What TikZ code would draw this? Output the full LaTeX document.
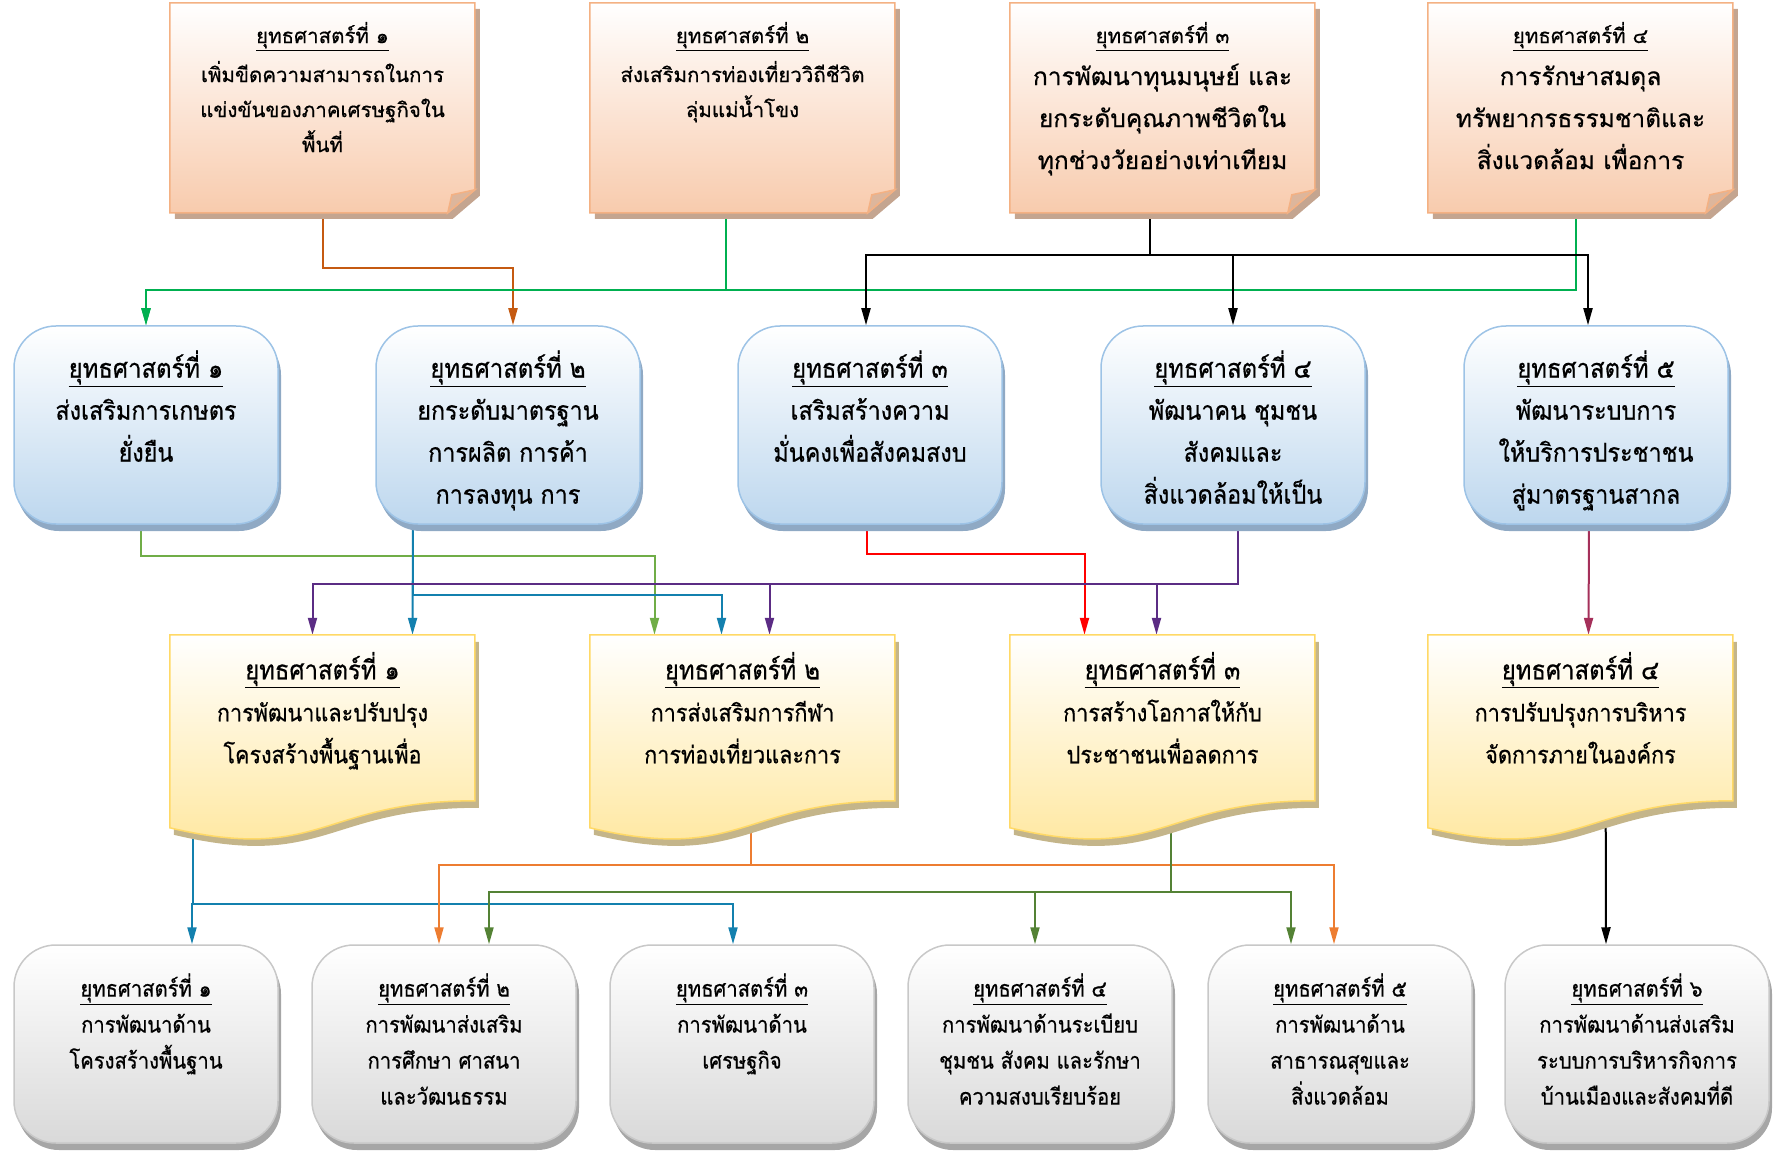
\documentclass[tikz,border=0pt]{standalone}
\usepackage{fontspec}
\newfontfamily\thaifont[Script=Thai,FakeBold=0.6]{Loma}
\newfontfamily\thainarrow[Script=Thai,FakeStretch=0.9,FakeBold=0.6]{Loma}
\usetikzlibrary{positioning,arrows.meta,shadows}

% box colours
\definecolor{peach}{HTML}{F8CBAD}
\definecolor{peachline}{HTML}{F4B183}
\definecolor{peachshade}{HTML}{C4A590}
\definecolor{peachfold}{HTML}{DDB69C}
\definecolor{skyfill}{HTML}{BDD7EE}
\definecolor{skyline}{HTML}{9DC3E6}
\definecolor{skyshade}{HTML}{8FA9C4}
\definecolor{lemon}{HTML}{FFE699}
\definecolor{lemonline}{HTML}{FFD966}
\definecolor{lemonshade}{HTML}{C4B58A}
\definecolor{ash}{HTML}{D9D9D9}
\definecolor{ashline}{HTML}{C8C8C8}
\definecolor{ashshade}{HTML}{A6A6A6}
% line colours
\definecolor{rust}{HTML}{C55A11}
\definecolor{leaf}{HTML}{00B050}
\definecolor{lime}{HTML}{70AD47}
\definecolor{sea}{HTML}{1380AE}
\definecolor{plum}{HTML}{5B2C84}
\definecolor{wine}{HTML}{A5305A}
\definecolor{tang}{HTML}{ED7D31}
\definecolor{moss}{HTML}{548235}

\pgfdeclarelayer{lines}
\pgfdeclarelayer{paper}
\pgfsetlayers{lines,paper,main}

\tikzset{
  notebox/.style={minimum width=305pt, minimum height=210pt, inner sep=0pt},
  docbox/.style={minimum width=305pt, minimum height=200pt, inner sep=0pt},
  skybox/.style={rounded corners=42pt, minimum width=264pt, minimum height=198pt,
    draw=skyline, line width=1.5pt, top color=white, bottom color=skyfill,
    drop shadow={shadow xshift=3pt, shadow yshift=-7pt, fill=skyshade, opacity=1}},
  ashbox/.style={rounded corners=42pt, minimum width=264pt, minimum height=198pt,
    draw=ashline, line width=1.5pt, top color=white, bottom color=ash,
    drop shadow={shadow xshift=3pt, shadow yshift=-7pt, fill=ashshade, opacity=1}},
  notefill/.style={draw=peachline, line width=1.5pt, top color=white, bottom color=peach},
  docfill/.style={draw=lemonline, line width=1.5pt, top color=white, bottom color=lemon},
  notetxt/.style={align=center, inner sep=0pt, font=\thaifont\fontsize{20.5}{35}\selectfont},
  skytxt/.style={align=center, inner sep=0pt, font=\thainarrow\fontsize{26}{42}\selectfont},
  lemontxt/.style={align=center, inner sep=0pt, font=\thainarrow\fontsize{24}{42}\selectfont},
  ashtxt/.style={align=center, inner sep=0pt, font=\thainarrow\fontsize{22.5}{36}\selectfont},
  link/.style={draw=#1, line width=2pt, -{Triangle[length=17pt,width=9pt]}}
}

\newcommand{\ttl}[2]{{\fontsize{#1}{#1}\selectfont\underline{#2}}}
\newcommand{\notepath}{(0,0) -- (305,0) -- (305,187) -- (278,210) -- (0,210) -- cycle}
\newcommand{\docpath}{(0,0) -- (305,0) -- (305,166) .. controls (152,166) and (152,229) .. (0,193) -- cycle}
\newcommand{\notepaper}[1]{%
  \begin{scope}[shift={(#1.north west)}]
    \fill[peachshade, shift={(5,6)}] \notepath;
    \path[notefill] \notepath;
    \filldraw[fill=peachfold, draw=peachline, line width=1.5pt] (305,187) -- (278,210) -- (282,192) -- cycle;
  \end{scope}}
\newcommand{\docpaper}[1]{%
  \begin{scope}[shift={(#1.north west)}]
    \fill[lemonshade, shift={(4,7)}] \docpath;
    \path[docfill] \docpath;
  \end{scope}}

\begin{document}
\begin{tikzpicture}[x=1pt,y=-1pt]
  \useasboundingbox (0,0) rectangle (1778,1155);
  % top row
  \node[notebox] (t1) at (322.5,108) {};
  \node[notebox] (t2) at (742.5,108) {};
  \node[notebox] (t3) at (1162.5,108) {};
  \node[notebox] (t4) at (1580.5,108) {};
  \node[notetxt, below=19pt of t1.north] (t1l) {\ttl{20.5}{ยุทธศาสตร์ที่ ๑}\\[4pt]เพิ่มขีดความสามารถในการ\\แข่งขันของภาคเศรษฐกิจใน\\พื้นที่};
  \node[notetxt, below=19pt of t2.north] (t2l) {\ttl{20.5}{ยุทธศาสตร์ที่ ๒}\\[4pt]ส่งเสริมการท่องเที่ยววิถีชีวิต\\ลุ่มแม่น้ำโขง};
  \node[notetxt, font=\thaifont\fontsize{24.5}{42}\selectfont, below=19pt of t3.north] (t3l) {\ttl{20.5}{ยุทธศาสตร์ที่ ๓}\\การพัฒนาทุนมนุษย์ และ\\ยกระดับคุณภาพชีวิตใน\\ทุกช่วงวัยอย่างเท่าเทียม};
  \node[notetxt, font=\thaifont\fontsize{24.5}{42}\selectfont, below=19pt of t4.north] (t4l) {\ttl{20.5}{ยุทธศาสตร์ที่ ๔}\\การรักษาสมดุล\\ทรัพยากรธรรมชาติและ\\สิ่งแวดล้อม เพื่อการ};
  % second row
  \node[skybox] (b1) at (146,425) {};
  \node[skybox] (b2) at (508,425) {};
  \node[skybox] (b3) at (870,425) {};
  \node[skybox] (b4) at (1233,425) {};
  \node[skybox] (b5) at (1596,425) {};
  \node[skytxt, below=25pt of b1.north] (b1l) {\ttl{26.5}{ยุทธศาสตร์ที่ ๑}\\ส่งเสริมการเกษตร\\ยั่งยืน};
  \node[skytxt, below=25pt of b2.north] (b2l) {\ttl{26.5}{ยุทธศาสตร์ที่ ๒}\\ยกระดับมาตรฐาน\\การผลิต การค้า\\การลงทุน การ};
  \node[skytxt, below=25pt of b3.north] (b3l) {\ttl{26.5}{ยุทธศาสตร์ที่ ๓}\\เสริมสร้างความ\\มั่นคงเพื่อสังคมสงบ};
  \node[skytxt, below=25pt of b4.north] (b4l) {\ttl{26.5}{ยุทธศาสตร์ที่ ๔}\\พัฒนาคน ชุมชน\\สังคมและ\\สิ่งแวดล้อมให้เป็น};
  \node[skytxt, below=25pt of b5.north] (b5l) {\ttl{26.5}{ยุทธศาสตร์ที่ ๕}\\พัฒนาระบบการ\\ให้บริการประชาชน\\สู่มาตรฐานสากล};
  % third row
  \node[docbox] (d1) at (322.5,735) {};
  \node[docbox] (d2) at (742.5,735) {};
  \node[docbox] (d3) at (1162.5,735) {};
  \node[docbox] (d4) at (1580.5,735) {};
  \node[lemontxt, below=17pt of d1.north] (d1l) {\ttl{26.5}{ยุทธศาสตร์ที่ ๑}\\การพัฒนาและปรับปรุง\\โครงสร้างพื้นฐานเพื่อ};
  \node[lemontxt, below=17pt of d2.north] (d2l) {\ttl{26.5}{ยุทธศาสตร์ที่ ๒}\\การส่งเสริมการกีฬา\\การท่องเที่ยวและการ};
  \node[lemontxt, below=17pt of d3.north] (d3l) {\ttl{26.5}{ยุทธศาสตร์ที่ ๓}\\การสร้างโอกาสให้กับ\\ประชาชนเพื่อลดการ};
  \node[lemontxt, below=17pt of d4.north] (d4l) {\ttl{26.5}{ยุทธศาสตร์ที่ ๔}\\การปรับปรุงการบริหาร\\จัดการภายในองค์กร};
  % bottom row
  \node[ashbox] (g1) at (146,1044) {};
  \node[ashbox] (g2) at (444,1044) {};
  \node[ashbox] (g3) at (742,1044) {};
  \node[ashbox] (g4) at (1040,1044) {};
  \node[ashbox] (g5) at (1340,1044) {};
  \node[ashbox] (g6) at (1637,1044) {};
  \node[ashtxt, below=29pt of g1.north] (g1l) {\ttl{22.5}{ยุทธศาสตร์ที่ ๑}\\การพัฒนาด้าน\\โครงสร้างพื้นฐาน};
  \node[ashtxt, below=29pt of g2.north] (g2l) {\ttl{22.5}{ยุทธศาสตร์ที่ ๒}\\การพัฒนาส่งเสริม\\การศึกษา ศาสนา\\และวัฒนธรรม};
  \node[ashtxt, below=29pt of g3.north] (g3l) {\ttl{22.5}{ยุทธศาสตร์ที่ ๓}\\การพัฒนาด้าน\\เศรษฐกิจ};
  \node[ashtxt, below=29pt of g4.north] (g4l) {\ttl{22.5}{ยุทธศาสตร์ที่ ๔}\\การพัฒนาด้านระเบียบ\\ชุมชน สังคม และรักษา\\ความสงบเรียบร้อย};
  \node[ashtxt, below=29pt of g5.north] (g5l) {\ttl{22.5}{ยุทธศาสตร์ที่ ๕}\\การพัฒนาด้าน\\สาธารณสุขและ\\สิ่งแวดล้อม};
  \node[ashtxt, below=29pt of g6.north] (g6l) {\ttl{22.5}{ยุทธศาสตร์ที่ ๖}\\การพัฒนาด้านส่งเสริม\\ระบบการบริหารกิจการ\\บ้านเมืองและสังคมที่ดี};

  \begin{pgfonlayer}{paper}
    \notepaper{t1} \notepaper{t2} \notepaper{t3} \notepaper{t4}
    \docpaper{d1} \docpaper{d2} \docpaper{d3} \docpaper{d4}
  \end{pgfonlayer}

  \begin{pgfonlayer}{lines}
    % top row to second row
    \draw[link=rust] (t1.south) -- ++(0,55) -| ([xshift=5pt]b2.north);
    \draw[link=leaf] ([xshift=-17pt]t2.south) -- ++(0,77) -| (b1.north);
    \draw[link=leaf] ([xshift=-5pt]t4.south) -- ++(0,77) -| (b1.north);
    \draw[link=black] ([xshift=-13pt]t3.south) -- ++(0,42) -| ([xshift=-4pt]b3.north);
    \draw[link=black] ([xshift=-13pt]t3.south) -- ++(0,42) -| (b4.north);
    \draw[link=black] ([xshift=-13pt]t3.south) -- ++(0,42) -| ([xshift=-8pt]b5.north);
    % second row to third row
    \draw[link=lime] ([xshift=-5pt]b1.south) -- ++(0,31) -| ([xshift=-88pt]d2.north);
    \draw[link=sea] ([xshift=-95pt]b2.south) -- ([xshift=90pt]d1.north);
    \draw[link=sea] ([xshift=-95pt]b2.south) -- ++(0,70) -| ([xshift=-21pt]d2.north);
    \draw[link=red] ([xshift=-3pt]b3.south) -- ++(0,29) -| ([xshift=-78pt]d3.north);
    \draw[link=plum] ([xshift=5pt]b4.south) -- ++(0,59) -| ([xshift=-10pt]d1.north);
    \draw[link=plum] ([xshift=5pt]b4.south) -- ++(0,59) -| ([xshift=27pt]d2.north);
    \draw[link=plum] ([xshift=5pt]b4.south) -- ++(0,59) -| ([xshift=-6pt]d3.north);
    \draw[link=wine] ([xshift=-7pt]b5.south) -- ([xshift=8pt]d4.north);
    % third row to bottom row
    \draw[link=sea] ([xshift=-130pt]d1.center) -- ++(0,169) -| ([xshift=46pt]g1.north);
    \draw[link=sea] ([xshift=-130pt]d1.center) -- ++(0,169) -| ([xshift=-9pt]g3.north);
    \draw[link=tang] ([xshift=8pt]d2.center) -- ++(0,130) -| ([xshift=-5pt]g2.north);
    \draw[link=tang] ([xshift=8pt]d2.center) -- ++(0,130) -| ([xshift=-6pt]g5.north);
    \draw[link=moss] ([xshift=8pt]d3.center) -- ++(0,157) -| ([xshift=45pt]g2.north);
    \draw[link=moss] ([xshift=8pt]d3.center) -- ++(0,157) -| ([xshift=-5pt]g4.north);
    \draw[link=moss] ([xshift=8pt]d3.center) -- ++(0,157) -| ([xshift=-49pt]g5.north);
    \draw[link=black] ([xshift=25pt]d4.center) -- ([xshift=-31pt]g6.north);
  \end{pgfonlayer}
\end{tikzpicture}
\end{document}
